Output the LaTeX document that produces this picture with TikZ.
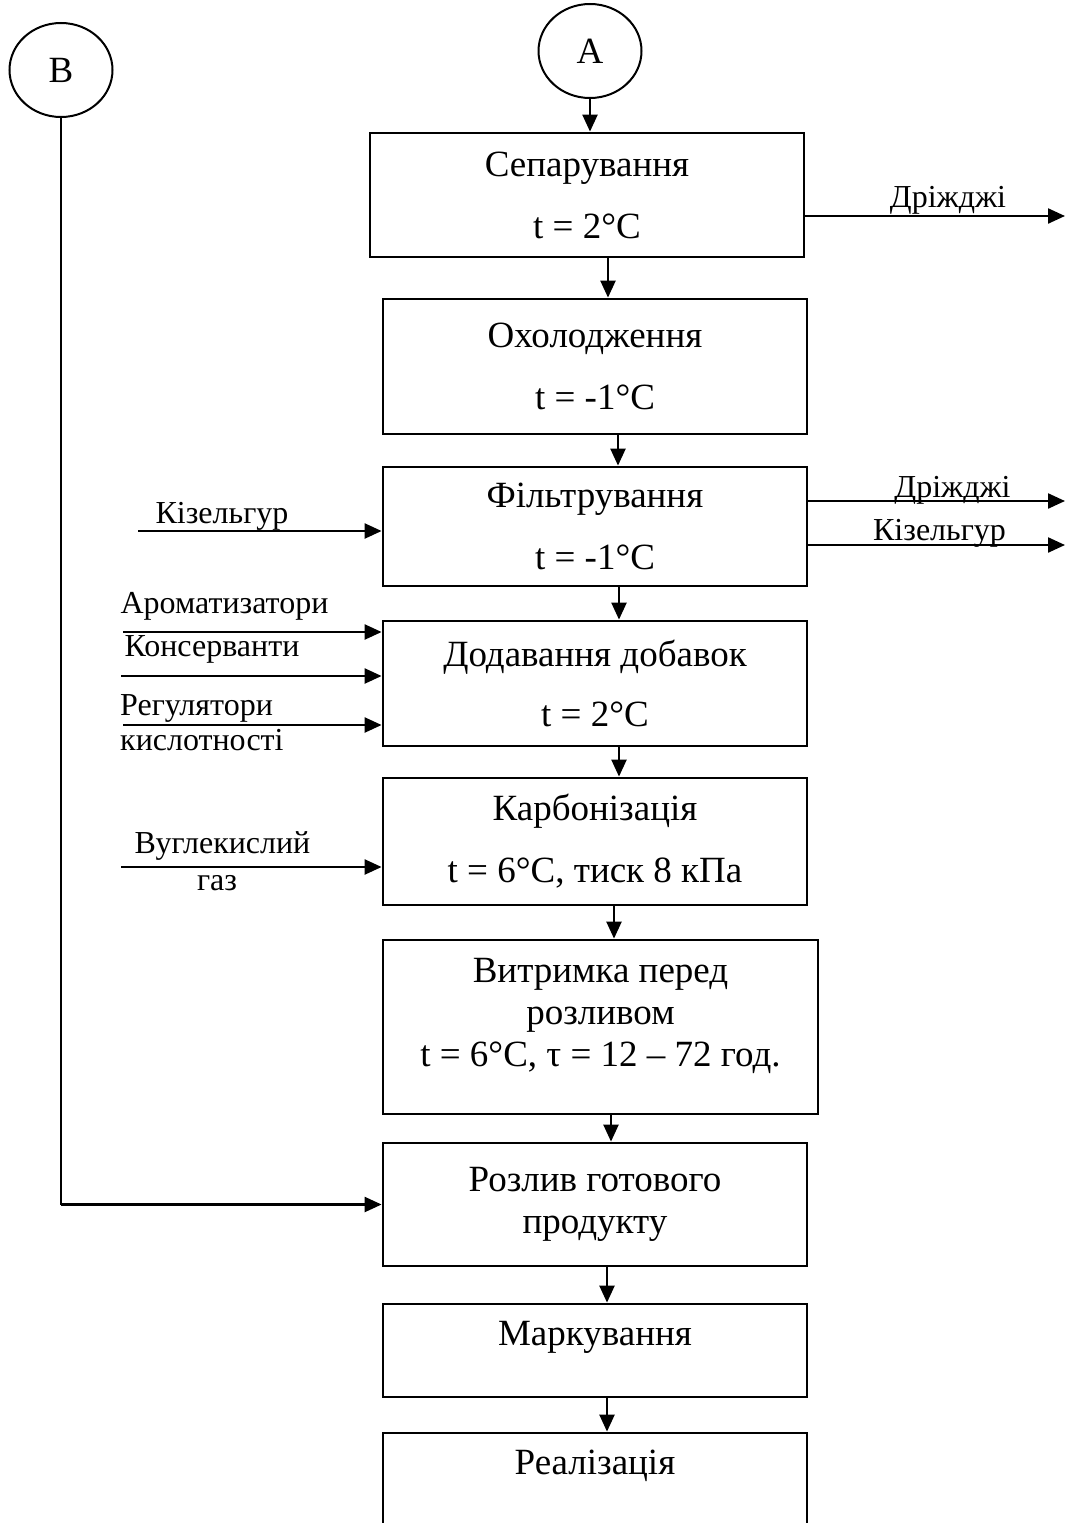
\documentclass[tikz,border=0pt]{standalone}
\usepackage{fontspec}
\setmainfont{Liberation Serif}
\usetikzlibrary{arrows.meta,shapes.geometric}

\begin{document}
\begin{tikzpicture}[x=1pt,y=-1pt,
		stepbox/.style={draw,line width=2.8pt,align=center,inner sep=0pt,font=\fontsize{37}{42}\selectfont},
		circ/.style={draw,ellipse,line width=2pt,minimum width=103pt,minimum height=94pt,inner sep=0pt,font=\fontsize{37}{42}\selectfont},
		lbl/.style={anchor=base,inner sep=0pt,font=\fontsize{32}{36}\selectfont},
		arr/.style={line width=2.3pt,-{Triangle[length=17pt,width=15pt]}}]
		\useasboundingbox (0,0) rectangle (1066,1523);
		\clip (0,0) rectangle (1066,1523);
		\node[circ] (A) at (590,51) {A};
		\node[circ] (B) at (61,70) {B};
		\node[stepbox,minimum width=434pt,minimum height=124pt] (sep) at (587,195) {Сепарування\\[20pt]t = 2°C};
		\node[stepbox,minimum width=424pt,minimum height=135pt] (ohol) at (595,366.5) {Охолодження\\[20pt]t = -1°C};
		\node[stepbox,minimum width=424pt,minimum height=119pt] (filt) at (595,526.5) {Фільтрування\\[20pt]t = -1°C};
		\node[stepbox,minimum width=424pt,minimum height=125pt] (dod) at (595,683.5) {Додавання добавок\\[18pt]t = 2°C};
		\node[stepbox,minimum width=424pt,minimum height=127pt] (karb) at (595,841.5) {Карбонізація\\[20pt]t = 6°C, тиск 8 кПа};
		\node[stepbox,minimum width=435pt,minimum height=174pt,text depth=30pt] (vytr) at (600.5,1027) {Витримка перед\\розливом\\t = 6°C, τ = 12 – 72 год.};
		\node[stepbox,minimum width=424pt,minimum height=123pt] (rozl) at (595,1204.5) {Розлив готового\\продукту};
		\node[stepbox,minimum width=424pt,minimum height=93pt,text depth=34pt] (mark) at (595,1350.5) {Маркування};
		\node[stepbox,minimum width=424pt,minimum height=93pt,text depth=34pt] (real) at (595,1479.5) {Реалізація};

		\node[lbl] (yeast1) at (948,207) {Дріжджі};
		\node[lbl] (yeast2) at (952.5,497) {Дріжджі};
		\node[lbl] (kiz2) at (939.5,540) {Кізельгур};
		\node[lbl] (kiz1) at (222,523) {Кізельгур};
		\node[lbl] (arom) at (224.5,613) {Ароматизатори};
		\node[lbl] (kons) at (212,656) {Консерванти};
		\node[lbl,anchor=base west] (reg1) at (120,715) {Регулятори};
		\node[lbl,anchor=base west] (reg2) at (120,750) {кислотності};
		\node[lbl] (gaz1) at (222.5,853) {Вуглекислий};
		\node[lbl] (gaz2) at (217,890) {газ};

		\coordinate (yeastout1) at (1065,216);
		\coordinate (yeastout2) at (1065,501);
		\coordinate (kizout) at (1065,545);
		\coordinate (kizin) at (138,531);
		\coordinate (aromin) at (123,632);
		\coordinate (konsin) at (121,676);
		\coordinate (regin) at (123,725);
		\coordinate (gazin) at (121,867);
		\coordinate (bend) at (B.south |- rozl.west);

		\draw[arr] (A) -- (A |- sep.north);
		\draw[arr] (sep.south -| 608,0) -- (ohol.north -| 608,0);
		\draw[arr] (ohol.south -| 618,0) -- (filt.north -| 618,0);
		\draw[arr] (filt.south -| 619,0) -- (dod.north -| 619,0);
		\draw[arr] (dod.south -| 619,0) -- (karb.north -| 619,0);
		\draw[arr] (karb.south -| 614,0) -- (vytr.north -| 614,0);
		\draw[arr] (vytr.south -| 611,0) -- (rozl.north -| 611,0);
		\draw[arr] (rozl.south -| 607,0) -- (mark.north -| 607,0);
		\draw[arr] (mark.south -| 607,0) -- (real.north -| 607,0);

		\draw[arr] (sep.east |- yeastout1) -- (yeastout1);
		\draw[arr] (filt.east |- yeastout2) -- (yeastout2);
		\draw[arr] (filt.east |- kizout) -- (kizout);
		\draw[arr] (kizin) -- (kizin -| filt.west);
		\draw[arr] (aromin) -- (aromin -| dod.west);
		\draw[arr] (konsin) -- (konsin -| dod.west);
		\draw[arr] (regin) -- (regin -| dod.west);
		\draw[arr] (gazin) -- (gazin -| karb.west);
		\draw[line width=1.3pt] (B) -- (bend);
		\draw[arr] (bend) -- (rozl.west);
	\end{tikzpicture}
\end{document}
